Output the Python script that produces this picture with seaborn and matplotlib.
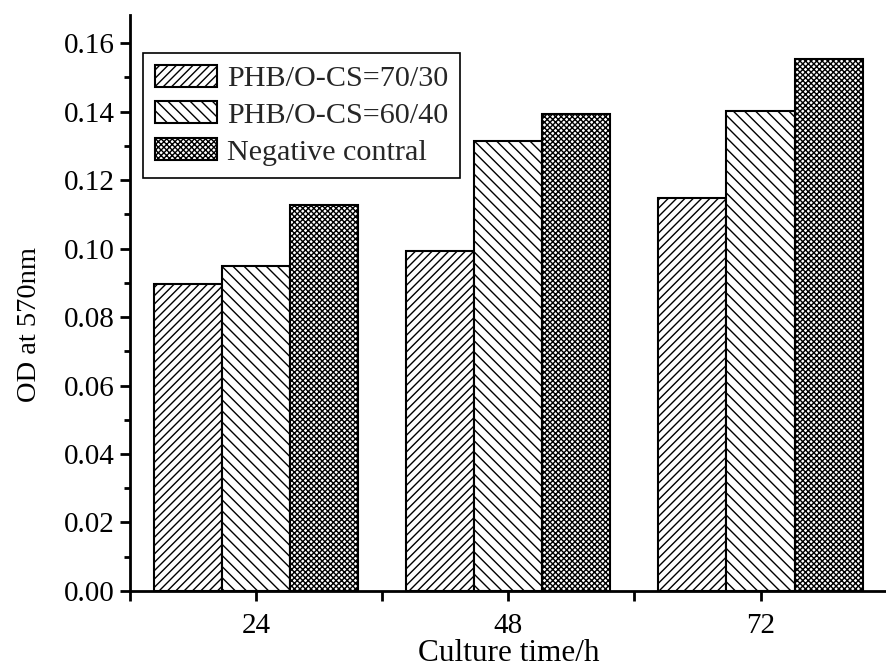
import matplotlib
matplotlib.use("Agg")
import matplotlib.pyplot as plt
import seaborn as sns
import pandas as pd
from matplotlib.ticker import MultipleLocator, FixedLocator

times = ["24", "48", "72"]
series = ["PHB/O-CS=70/30", "PHB/O-CS=60/40", "Negative contral"]
v_70_30 = [0.0896, 0.0993, 0.1147]
v_60_40 = [0.0949, 0.1315, 0.1401]
v_neg = [0.1127, 0.1393, 0.1555]

df = pd.DataFrame({
    "time": times * 3,
    "series": [series[0]] * 3 + [series[1]] * 3 + [series[2]] * 3,
    "od": v_70_30 + v_60_40 + v_neg,
})

sns.set_theme(style="ticks")
plt.rcParams["font.family"] = ["Liberation Serif", "DejaVu Serif"]
plt.rcParams["hatch.linewidth"] = 1.0
plt.rcParams["hatch.color"] = "black"

fig = plt.figure(figsize=(8.87, 6.70), dpi=100)
ax = fig.add_axes([0.1466, 0.118, 0.853, 0.860])

sns.barplot(data=df, x="time", y="od", hue="series", order=times,
            hue_order=series, width=0.81, gap=0, palette=["white"] * 3,
            edgecolor="black", linewidth=1.5, saturation=1, ax=ax,
            legend=False, errorbar=None)

hatches = ["////", "\\\\\\", "xxxxxx"]
for cont, h in zip(ax.containers, hatches):
    for p in cont:
        p.set_hatch(h)
        p.set_facecolor("white")
        p.set_edgecolor("black")

ax.set_ylim(0, 0.1683)
ax.set_xlim(-0.5, 2.5)
ax.yaxis.set_minor_locator(MultipleLocator(0.01))
ax.xaxis.set_minor_locator(FixedLocator([-0.5, 0.5, 1.5, 2.5]))
yt = [0.00, 0.02, 0.04, 0.06, 0.08, 0.10, 0.12, 0.14, 0.16]
ax.set_yticks(yt)
ax.set_yticklabels([f"{v:.2f}" for v in yt])

for s in ["top", "right"]:
    ax.spines[s].set_visible(False)
for s in ["left", "bottom"]:
    ax.spines[s].set_linewidth(2.0)
    ax.spines[s].set_color("black")

ax.tick_params(axis="both", which="major", direction="out", length=7, width=2,
               labelsize=21, colors="black", pad=4)
ax.tick_params(axis="y", which="minor", direction="out", length=4, width=2, colors="black")
ax.tick_params(axis="x", which="minor", direction="out", length=7, width=2, colors="black")
ax.tick_params(axis="x", which="major", pad=9)

ax.set_xlabel("Culture time/h", fontsize=22.5, labelpad=0, color="black")
ax.set_ylabel("OD at 570nm", fontsize=20.5, color="black")
ax.yaxis.set_label_coords(-0.117, 0.462)

leg = ax.legend(ax.containers, series, loc="upper left",
                bbox_to_anchor=(0.017, 0.934), borderaxespad=0,
                fontsize=21.7, frameon=True, fancybox=False, framealpha=1,
                edgecolor="black", handlelength=2.05, handleheight=0.75,
                handletextpad=0.33, labelspacing=0.3, borderpad=0.4)
leg.get_frame().set_linewidth(1.2)

fig.savefig("out.png", dpi=100)
